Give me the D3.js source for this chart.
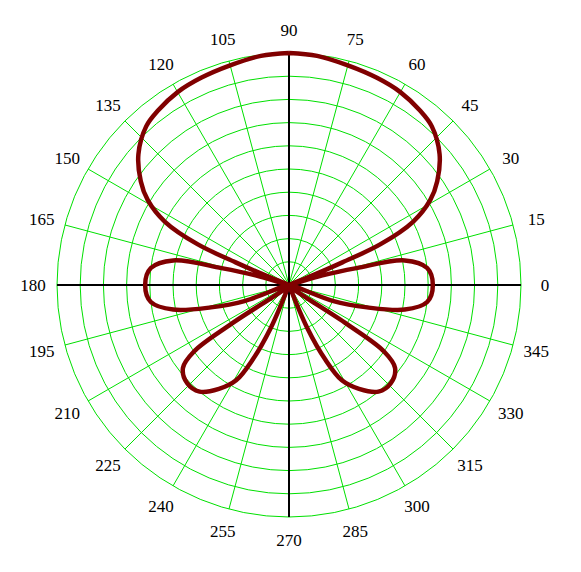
<!DOCTYPE html>
<html>
<head>
<meta charset="utf-8">
<script src="https://cdn.jsdelivr.net/npm/d3@7"></script>
<style>body{margin:0;background:#fff}</style>
</head>
<body>
<div id="chart"></div>
<script>
// polar curve: angle in degrees, radius as fraction of the outer ring
var angles = [90, 83, 75, 67, 60, 53, 48, 41, 35, 31, 27, 24, 23, 22, 20, 16, 14, 12, 7, 0,
              -7, -12, -16, -20, -24, -34, -35, -38, -44, -50, -56, -61, -64, -67, -70, -90,
              -110, -113, -116, -119, -124, -130, -136, -142, -145, -146, -156, -160, -164, -168, -173, -180,
              -187, -192, -194, -196, -200, -202, -203, -204, -207, -211, -215, -221, -228, -233, -240, -247, -255, -263, -270];
var radii  = [1.0, 0.995, 0.98, 0.97, 0.96, 0.94, 0.92, 0.86, 0.78, 0.71, 0.60, 0.43, 0.25, 0.08, 0, 0.15, 0.30, 0.51, 0.60, 0.62,
              0.60, 0.51, 0.35, 0.20, 0, 0.30, 0.50, 0.58, 0.61, 0.60, 0.54, 0.47, 0.36, 0.20, 0, 0,
              0, 0.20, 0.36, 0.47, 0.54, 0.60, 0.61, 0.58, 0.50, 0.30, 0, 0.20, 0.35, 0.51, 0.60, 0.62,
              0.60, 0.51, 0.30, 0.15, 0, 0.08, 0.25, 0.43, 0.60, 0.71, 0.78, 0.86, 0.92, 0.94, 0.96, 0.97, 0.98, 0.995, 1.0];
var ringCount = 10;
var spokeAngles = d3.range(0, 360, 15);

var W = 581, H = 572, cx = 289, cy = 285, R = 232;

var svg = d3.select("#chart").append("svg").attr("width", W).attr("height", H);
var g = svg.append("g").attr("transform", "translate(" + cx + "," + cy + ")");
var r = d3.scaleLinear().domain([0, 1]).range([0, R]);

// rings
g.selectAll("circle.ring")
    .data(d3.range(1, ringCount + 1).map(function(i) { return i / ringCount; }))
    .enter().append("circle")
    .attr("r", function(d) { return r(d); })
    .attr("fill", "none")
    .attr("stroke", "#00e000")
    .attr("stroke-width", 1);

// spokes
g.selectAll("line.spoke")
    .data(spokeAngles.filter(function(a) { return a % 90 != 0; }))
    .enter().append("line")
    .attr("x1", 0).attr("y1", 0)
    .attr("x2", function(a) { return R * Math.cos(a * Math.PI / 180); })
    .attr("y2", function(a) { return -R * Math.sin(a * Math.PI / 180); })
    .attr("stroke", "#00e000")
    .attr("stroke-width", 1);

// black axes
g.append("line").attr("x1", -R).attr("x2", R).attr("y1", 0).attr("y2", 0).attr("stroke", "#000").attr("stroke-width", 2);
g.append("line").attr("y1", -R).attr("y2", R).attr("x1", 0).attr("x2", 0).attr("stroke", "#000").attr("stroke-width", 2);

// angle labels
g.selectAll("text.lbl")
    .data(spokeAngles)
    .enter().append("text")
    .attr("x", function(a) { return (R + 24) * Math.cos(a * Math.PI / 180); })
    .attr("y", function(a) { return -(R + 23) * Math.sin(a * Math.PI / 180) + 6; })
    .attr("text-anchor", "middle")
    .attr("font-family", "Liberation Serif, Times New Roman, serif")
    .attr("font-size", "17px")
    .attr("fill", "#000")
    .text(function(a) { return a; });

// curve
var pts = angles.map(function(a, i) { return [a, radii[i]]; });
var line = d3.lineRadial()
    .angle(function(d) { return (90 - d[0]) * Math.PI / 180; })
    .radius(function(d) { return r(d[1]); })
    .curve(d3.curveCatmullRom.alpha(0.5));

g.append("path")
    .datum(pts)
    .attr("d", line)
    .attr("fill", "none")
    .attr("stroke", "#800000")
    .attr("stroke-width", 4.5)
    .attr("stroke-linejoin", "round");
</script>
</body>
</html>
